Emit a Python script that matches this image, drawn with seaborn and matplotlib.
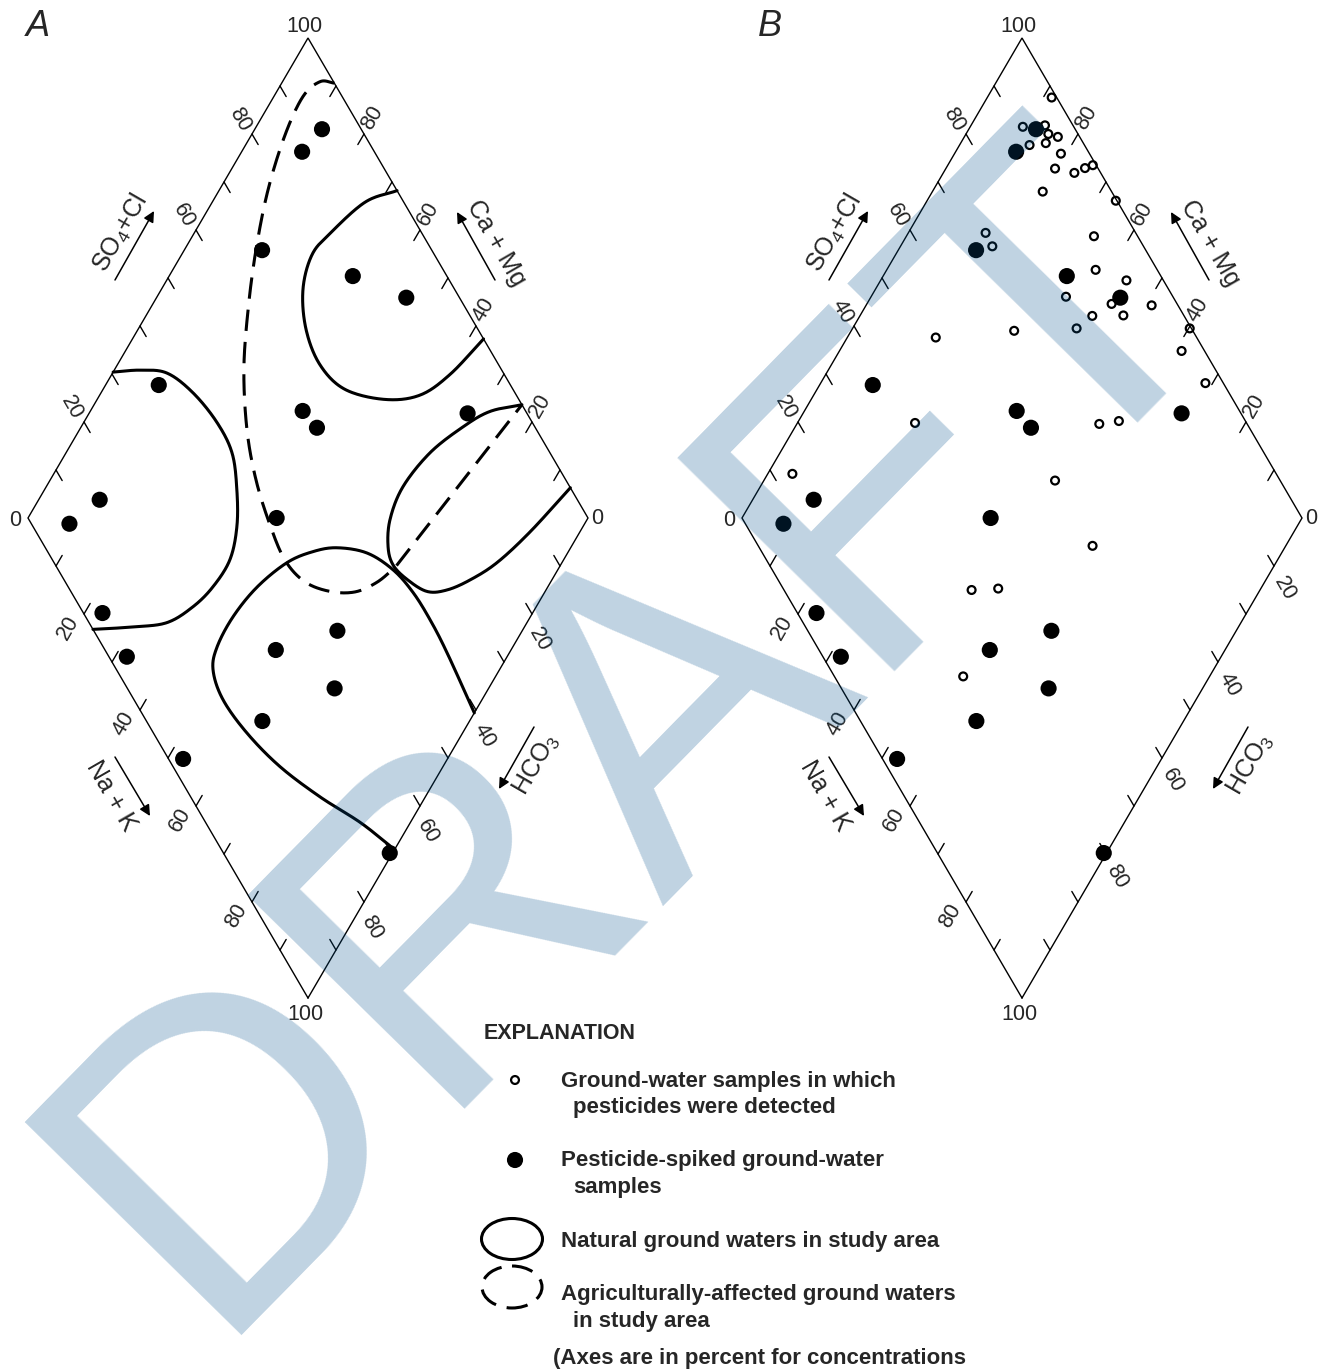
import numpy as np
import pandas as pd
import matplotlib
matplotlib.use("Agg")
import matplotlib.pyplot as plt
import matplotlib.transforms as mtransforms
from matplotlib.patches import Ellipse
import seaborn as sns

# ---------------- data (percent, Piper diamond) ----------------
# Pesticide-spiked ground-water samples (filled dots, both diagrams)
spiked_so4cl = [93.0, 87.1, 69.7, 83.2, 90.5, 37.2, 60.2, 61.0, 89.4, 14.7,
                6.8, 44.4, 3.4, 3.2, 43.5, 30.5, 37.0, 20.7, 2.6, 29.7]
spiked_camg = [88.0, 89.2, 86.1, 67.2, 55.4, 90.5, 62.1, 57.8, 32.4, 89.1,
               92.0, 55.6, 76.8, 67.9, 33.0, 42.0, 27.5, 37.0, 47.2, 0.5]

# Ground-water samples in which pesticides were detected (open dots, diagram B)
detected_so4cl = [99.1, 90.9, 95.0, 94.7, 90.2, 93.3, 96.1, 94.9, 92.3, 95.3,
                  97.7, 99.4, 87.7, 99.8, 73.2, 73.0, 92.2, 89.0, 93.4, 80.9,
                  88.3, 89.2, 95.3, 83.6, 79.5, 68.1, 53.4, 99.7, 95.9, 96.8,
                  73.6, 77.4, 40.8, 13.6, 59.8, 59.7, 33.5, 38.4, 23.0]
detected_camg = [88.5, 90.6, 86.8, 85.3, 87.5, 84.8, 83.3, 81.0, 80.5, 76.6,
                 75.2, 74.1, 80.3, 66.3, 86.2, 83.6, 66.5, 62.7, 56.1, 65.2,
                 56.3, 53.0, 49.0, 58.5, 60.0, 70.9, 84.2, 39.8, 38.9, 31.3,
                 46.0, 42.8, 79.0, 95.6, 48.0, 34.5, 51.5, 46.9, 44.0]

# Outlines of natural ground waters (diagram A)
natural1_so4cl = [100, 93.1, 83.6, 78.1, 72.9, 69.3, 68.1, 70.0, 76.1, 82.8, 90.3, 100]
natural1_camg = [68.2, 72.7, 75.7, 76.7, 74.7, 70.0, 63.8, 56.8, 48.6, 42.8, 39.6, 37.3]
natural2_so4cl = [30.4, 35.4, 39.9, 42.5, 43.7, 43.2, 40.2, 36.4, 31.7, 25.9, 20.2, 13.9, 7.4, 0]
natural2_camg = [100, 95.4, 90.3, 83.6, 76.2, 70.3, 65.6, 61.8, 59.6, 59.8, 61.3, 64.3, 69.9, 76.8]
natural3_so4cl = [100, 93.6, 87.2, 78.6, 70.2, 64.5, 61.3, 60.3, 61.3, 63.6, 67.3, 72.5, 79.1, 88.2, 100]
natural3_camg = [23.6, 28.6, 31.8, 35.0, 36.3, 35.2, 32.7, 29.9, 25.9, 21.1, 17.7, 14.6, 11.6, 8.9, 6.3]
natural4_so4cl = [30.5, 27.6, 23.1, 19.1, 16.7, 15.9, 17.2, 20.3, 26.3, 33.7, 41.6, 47.4,
                  52.1, 56.9, 59.8, 61.0, 61.2, 60.8, 59.4]
natural4_camg = [1.2, 9.0, 18.8, 29.1, 38.5, 46.3, 51.1, 52.8, 53.1, 51.9, 49.1, 45.6,
                 41.7, 35.8, 29.4, 23.5, 17.6, 11.2, 0.0]
# Outline of agriculturally-affected ground waters (diagram A), last leg straight
agri_so4cl = [100, 97.6, 93.0, 85.8, 77.0, 68.6, 61.0, 54.0, 48.3, 44.7, 42.5, 41.5,
              42.8, 46.3, 50.7, 55.6, 60.4, 100]
agri_camg = [90.6, 93.3, 94.8, 94.0, 91.3, 87.2, 82.4, 76.9, 70.1, 63.3, 56.1, 49.7,
             43.9, 38.4, 33.9, 31.0, 29.3, 23.6]

tick_values = [20, 40, 60, 80]
panel_a_ul_labels = [20, 60, 80]

# ---------------- style ----------------
sns.set_style("white")
plt.rcParams["font.family"] = ["Liberation Sans", "DejaVu Sans"]
plt.rcParams["mathtext.fontset"] = "custom"
plt.rcParams["mathtext.rm"] = "Liberation Sans"
plt.rcParams["mathtext.it"] = "Liberation Sans:italic"
plt.rcParams["mathtext.bf"] = "Liberation Sans:bold"

W, H = 1320, 1369
fig = plt.figure(figsize=(W / 100, H / 100), dpi=100)
HALF_W, HALF_H, CY = 280.0, 480.0, 518.0


def to_xy(a, c):
    a = np.asarray(a, float)
    c = np.asarray(c, float)
    return (a - c) / 100.0, (a + c) / 100.0 - 1.0


def smooth(a, c, n=24):
    P = np.column_stack([a, c]).astype(float)
    P = np.vstack([2 * P[0] - P[1], P, 2 * P[-1] - P[-2]])
    out = []
    t = np.linspace(0, 1, n, endpoint=False)[:, None]
    for i in range(1, len(P) - 2):
        p0, p1, p2, p3 = P[i - 1], P[i], P[i + 1], P[i + 2]
        seg = 0.5 * ((2 * p1) + (-p0 + p2) * t + (2 * p0 - 5 * p1 + 4 * p2 - p3) * t ** 2
                     + (-p0 + 3 * p1 - 3 * p2 + p3) * t ** 3)
        out.append(seg)
    out.append(P[-2][None, :])
    S = np.vstack(out)
    return S[:, 0], S[:, 1]


def make_panel(left_px, right_px):
    ax = fig.add_axes([left_px / W, 0, (right_px - left_px) / W, 1])
    ax.set_axis_off()
    return ax


def set_limits(ax, cx, left_px, right_px):
    ax.set_xlim((left_px - cx) / HALF_W, (right_px - cx) / HALF_W)
    ax.set_ylim((CY - H) / HALF_H, CY / HALF_H)


def off(ax, dx, dy):
    return mtransforms.offset_copy(ax.transData, fig=fig, x=dx, y=-dy, units="dots")


def draw_diamond(ax, ul_labels, lr_off):
    x, y = to_xy([0, 100, 100, 0, 0], [0, 0, 100, 100, 0])
    ax.plot(x, y, color="black", lw=1.0, solid_joinstyle="miter", zorder=2)
    T = 2.2
    for v in range(10, 100, 10):
        for (a0, c0, a1, c1) in [(v, 100, v, 100 - T), (100, v, 100 - T, v),
                                 (0, v, T, v), (v, 0, v, T)]:
            xs, ys = to_xy([a0, a1], [c0, c1])
            ax.plot(xs, ys, color="black", lw=1.0, zorder=2)
    fs = 15.5
    kw = dict(ha="center", va="center", fontsize=fs)
    for v in ul_labels:
        px, py = to_xy(v, 100)
        ax.text(px, py, str(v), transform=off(ax, -12, -14), rotation=-60, **kw)
    for v in tick_values:
        px, py = to_xy(100, v)
        ax.text(px, py, str(v), transform=off(ax, 8, -16), rotation=60, **kw)
        px, py = to_xy(0, 100 - v)
        ax.text(px, py, str(v), transform=off(ax, -16, 14), rotation=60, **kw)
        px, py = to_xy(100 - v, 0)
        ax.text(px, py, str(v), transform=off(ax, lr_off[0], lr_off[1]), rotation=-60, **kw)
    for (a, c, dx, dy, s) in [(100, 100, -4, -11, "100"), (0, 100, -13, 2, "0"),
                              (100, 0, 9, 1, "0"), (0, 0, -3, 17, "100")]:
        px, py = to_xy(a, c)
        ax.text(px, py, s, transform=off(ax, dx, dy), **kw)
    # axis titles and arrows (pixel offsets from diamond centre)
    titles = [(r"SO$_{4}$+Cl", -187, -285, 60, (-193, -238), (-154, -307)),
              ("Ca + Mg", 188, -275, -60, (187, -238), (149, -306)),
              ("Na + K", -197, 278, -60, (-193, 239), (-158, 298)),
              (r"HCO$_{3}$", 228, 247, 60, (226, 209), (191, 271))]
    for (s, dx, dy, rot, st, en) in titles:
        ax.text(0, 0, s, transform=off(ax, dx, dy), rotation=rot, ha="center",
                va="center", fontsize=18)
        ax.annotate("", xy=(0, 0), xycoords=off(ax, en[0], en[1]),
                    xytext=(0, 0), textcoords=off(ax, st[0], st[1]),
                    arrowprops=dict(arrowstyle="-|>", color="black", lw=1.1,
                                    mutation_scale=16, shrinkA=0, shrinkB=0))


def scatter_spiked(ax):
    x, y = to_xy(spiked_so4cl, spiked_camg)
    df = pd.DataFrame({"x": x, "y": y})
    sns.scatterplot(data=df, x="x", y="y", ax=ax, s=135, color="black",
                    edgecolor="none", linewidth=0, legend=False, zorder=4)


# ---------------- panel A ----------------
axA = make_panel(0, 660)
draw_diamond(axA, panel_a_ul_labels, (8, 26))
for (a, c) in [(natural1_so4cl, natural1_camg), (natural2_so4cl, natural2_camg),
               (natural3_so4cl, natural3_camg), (natural4_so4cl, natural4_camg)]:
    xs, ys = to_xy(*smooth(a, c))
    axA.plot(xs, ys, color="black", lw=2.2, solid_capstyle="round", zorder=3)
sa, sc = smooth(agri_so4cl[:-1], agri_camg[:-1])
sa = np.append(sa, agri_so4cl[-1])
sc = np.append(sc, agri_camg[-1])
xs, ys = to_xy(sa, sc)
axA.plot(xs, ys, color="black", lw=2.2, linestyle=(0, (7, 3.6)), zorder=3)
scatter_spiked(axA)
axA.set_axis_off()
set_limits(axA, 308, 0, 660)

# ---------------- panel B ----------------
axB = make_panel(660, 1320)
draw_diamond(axB, tick_values, (39, -25))
scatter_spiked(axB)
dx_, dy_ = to_xy(detected_so4cl, detected_camg)
df_det = pd.DataFrame({"x": dx_, "y": dy_})
sns.scatterplot(data=df_det, x="x", y="y", ax=axB, s=32, facecolor="none",
                edgecolor="black", linewidth=1.6, legend=False, zorder=5)
axB.set_axis_off()
set_limits(axB, 1022, 660, 1320)

# panel letters
fig.text(38 / W, 1 - 27 / H, "A", ha="center", va="center", fontsize=26, style="italic")
fig.text(770 / W, 1 - 27 / H, "B", ha="center", va="center", fontsize=26, style="italic")

# ---------------- explanation ----------------
axL = fig.add_axes([0, 0, 1, 1])
axL.set_xlim(0, W)
axL.set_ylim(H, 0)
axL.set_axis_off()
axL.scatter([515], [1080], s=32, facecolor="none", edgecolor="black", linewidth=1.6)
axL.scatter([515], [1160], s=135, color="black", edgecolor="none")
axL.add_patch(Ellipse((512, 1239), 61, 41, fill=False, lw=2.2, edgecolor="black"))
axL.add_patch(Ellipse((512, 1287), 60, 42, fill=False, lw=2.2, edgecolor="black",
                      linestyle=(0, (7, 3.6))))
bold = dict(fontsize=16, fontweight="bold", ha="left", va="baseline")
axL.text(484, 1039, "EXPLANATION", fontsize=15.5, fontweight="bold", ha="left", va="baseline")
axL.text(561, 1087, "Ground-water samples in which", **bold)
axL.text(573, 1113, "pesticides were detected", **bold)
axL.text(561, 1166, "Pesticide-spiked ground-water", **bold)
axL.text(573, 1193, "samples", **bold)
axL.text(561, 1247, "Natural ground waters in study area", **bold)
axL.text(561, 1300, "Agriculturally-affected ground waters", **bold)
axL.text(573, 1327, "in study area", **bold)
axL.text(553, 1364, "(Axes are in percent for concentrations", **bold)

# ---------------- watermark ----------------
fig.text(205 / W, 1 - 1335 / H, "DRAFT", rotation=45.5, rotation_mode="anchor",
         ha="left", va="baseline", fontsize=318, color=(0.0, 0.314, 0.549),
         alpha=0.25, zorder=10, family="Liberation Sans")

fig.savefig("out.png", dpi=100)
